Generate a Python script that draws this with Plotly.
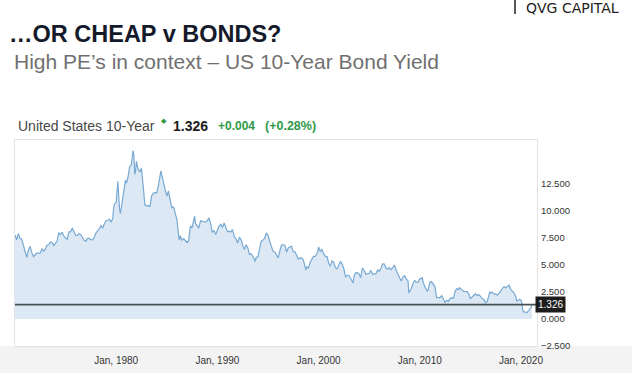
import plotly.graph_objects as go

# ---------------- data ----------------
dates = [
    "1970-01", "1970-03", "1970-05", "1970-07", "1970-09", "1970-11",
    "1971-01", "1971-03", "1971-05", "1971-07", "1971-09", "1971-11",
    "1972-01", "1972-03", "1972-05", "1972-07", "1972-09", "1972-11",
    "1973-01", "1973-03", "1973-05", "1973-07", "1973-09", "1973-11",
    "1974-01", "1974-03", "1974-05", "1974-07", "1974-09", "1974-11",
    "1975-01", "1975-03", "1975-05", "1975-07", "1975-09", "1975-11",
    "1976-01", "1976-03", "1976-05", "1976-07", "1976-09", "1976-11",
    "1977-01", "1977-03", "1977-05", "1977-07", "1977-09", "1977-11",
    "1978-01", "1978-03", "1978-05", "1978-07", "1978-09", "1978-11",
    "1979-01", "1979-03", "1979-05", "1979-07", "1979-09", "1979-10", "1979-11",
    "1980-01", "1980-02", "1980-03", "1980-05", "1980-06", "1980-07", "1980-09", "1980-11", "1980-12",
    "1981-01", "1981-03", "1981-05", "1981-07", "1981-09", "1981-10", "1981-11", "1981-12",
    "1982-01", "1982-03", "1982-05", "1982-07", "1982-09", "1982-11", "1982-12",
    "1983-01", "1983-03", "1983-05", "1983-07", "1983-09", "1983-11",
    "1984-01", "1984-03", "1984-05", "1984-06", "1984-07", "1984-09", "1984-11",
    "1985-01", "1985-03", "1985-05", "1985-07", "1985-09", "1985-11", "1985-12",
    "1986-01", "1986-03", "1986-04", "1986-05", "1986-07", "1986-09", "1986-11",
    "1987-01", "1987-03", "1987-05", "1987-07", "1987-09", "1987-10", "1987-11",
    "1988-01", "1988-03", "1988-05", "1988-07", "1988-09", "1988-11",
    "1989-01", "1989-03", "1989-05", "1989-07", "1989-09", "1989-11",
    "1990-01", "1990-03", "1990-05", "1990-07", "1990-09", "1990-11",
    "1991-01", "1991-03", "1991-05", "1991-07", "1991-09", "1991-11", "1991-12",
    "1992-01", "1992-03", "1992-05", "1992-07", "1992-09", "1992-11",
    "1993-01", "1993-03", "1993-05", "1993-07", "1993-09", "1993-10", "1993-11",
    "1994-01", "1994-03", "1994-05", "1994-07", "1994-09", "1994-11",
    "1995-01", "1995-03", "1995-05", "1995-07", "1995-09", "1995-11",
    "1996-01", "1996-03", "1996-05", "1996-07", "1996-09", "1996-11",
    "1997-01", "1997-03", "1997-05", "1997-07", "1997-09", "1997-11",
    "1998-01", "1998-03", "1998-05", "1998-07", "1998-09", "1998-10", "1998-11",
    "1999-01", "1999-03", "1999-05", "1999-07", "1999-09", "1999-11", "1999-12",
    "2000-01", "2000-03", "2000-05", "2000-07", "2000-09", "2000-11",
    "2001-01", "2001-03", "2001-05", "2001-07", "2001-09", "2001-11",
    "2002-01", "2002-03", "2002-05", "2002-07", "2002-09", "2002-11",
    "2003-01", "2003-03", "2003-05", "2003-06", "2003-07", "2003-09", "2003-11",
    "2004-01", "2004-03", "2004-05", "2004-07", "2004-09", "2004-11",
    "2005-01", "2005-03", "2005-05", "2005-07", "2005-09", "2005-11",
    "2006-01", "2006-03", "2006-05", "2006-07", "2006-09", "2006-11",
    "2007-01", "2007-03", "2007-05", "2007-07", "2007-09", "2007-11",
    "2008-01", "2008-03", "2008-05", "2008-07", "2008-09", "2008-11", "2008-12",
    "2009-01", "2009-03", "2009-05", "2009-07", "2009-09", "2009-11",
    "2010-01", "2010-03", "2010-04", "2010-05", "2010-07", "2010-09", "2010-10", "2010-11",
    "2011-01", "2011-03", "2011-05", "2011-07", "2011-09", "2011-11",
    "2012-01", "2012-03", "2012-05", "2012-07", "2012-09", "2012-11",
    "2013-01", "2013-03", "2013-05", "2013-07", "2013-09", "2013-11", "2013-12",
    "2014-01", "2014-03", "2014-05", "2014-07", "2014-09", "2014-11",
    "2015-01", "2015-03", "2015-05", "2015-07", "2015-09", "2015-11",
    "2016-01", "2016-03", "2016-05", "2016-07", "2016-09", "2016-11", "2016-12",
    "2017-01", "2017-03", "2017-05", "2017-07", "2017-09", "2017-11",
    "2018-01", "2018-03", "2018-05", "2018-07", "2018-09", "2018-11",
    "2019-01", "2019-03", "2019-05", "2019-07", "2019-08", "2019-09", "2019-11",
    "2020-01", "2020-02", "2020-03", "2020-04", "2020-05", "2020-07", "2020-08", "2020-09", "2020-11", "2020-12",
    "2021-01", "2021-02",
]

yields = [
    7.79, 7.33, 7.91, 7.46, 7.39, 6.87,
    6.24, 5.70, 6.39, 6.73, 6.14, 5.78,
    5.95, 6.12, 6.08, 6.11, 6.48, 6.28,
    6.46, 6.85, 6.85, 7.13, 7.09, 6.79,
    6.99, 7.21, 7.99, 7.81, 8.04, 7.68,
    7.50, 7.39, 8.06, 8.06, 8.43, 8.05,
    7.74, 7.73, 7.90, 7.83, 7.59, 7.29,
    7.21, 7.46, 7.46, 7.33, 7.34, 7.58,
    7.96, 8.11, 8.35, 8.64, 8.42, 8.81,
    9.10, 9.12, 9.25, 8.95, 9.33, 10.30, 10.65,
    10.80, 12.41, 12.75, 10.18, 9.78, 10.25, 11.51, 12.68, 12.84,
    12.57, 13.12, 14.10, 14.28, 15.60, 15.15, 13.39, 13.72,
    14.59, 13.86, 13.62, 13.95, 12.34, 10.55, 10.54,
    10.46, 10.51, 10.38, 11.38, 11.65, 11.69,
    11.67, 12.32, 13.41, 13.70, 13.36, 12.52, 11.98,
    11.38, 11.86, 11.01, 10.31, 10.37, 9.78, 9.26,
    9.19, 7.78, 7.30, 7.71, 7.30, 7.45, 7.25,
    7.08, 7.25, 8.61, 8.45, 9.42, 9.52, 8.86,
    8.67, 8.42, 9.09, 9.06, 8.98, 8.96,
    9.09, 9.36, 8.86, 8.02, 8.19, 7.81,
    8.21, 8.59, 8.76, 8.47, 8.89, 8.39,
    8.09, 8.11, 8.07, 8.27, 7.65, 7.42, 7.09,
    7.03, 7.54, 7.39, 6.84, 6.42, 6.87,
    6.60, 5.98, 6.04, 5.81, 5.36, 5.33, 5.72,
    5.75, 6.48, 7.18, 7.30, 7.46, 7.96,
    7.78, 7.20, 6.62, 6.28, 6.20, 5.93,
    5.65, 6.27, 6.85, 6.87, 6.83, 6.20,
    6.58, 6.69, 6.71, 6.22, 6.21, 5.88,
    5.54, 5.65, 5.65, 5.46, 4.81, 4.53, 4.83,
    4.72, 5.23, 5.54, 5.79, 5.80, 6.03, 6.28,
    6.66, 6.26, 6.44, 6.05, 5.80, 5.78,
    5.16, 4.89, 5.39, 5.24, 4.73, 4.65,
    5.04, 5.33, 5.08, 4.65, 3.87, 4.05,
    4.05, 3.81, 3.57, 3.33, 3.98, 4.27, 4.29,
    4.15, 3.83, 4.72, 4.50, 4.13, 4.19,
    4.22, 4.50, 4.14, 4.18, 4.20, 4.54,
    4.42, 4.72, 5.11, 5.09, 4.72, 4.60,
    4.76, 4.56, 4.75, 5.00, 4.52, 4.15,
    3.74, 3.51, 3.88, 4.01, 3.69, 3.53, 2.42,
    2.52, 2.82, 3.29, 3.56, 3.40, 3.40,
    3.73, 3.73, 3.85, 3.42, 3.01, 2.65, 2.54, 2.76,
    3.39, 3.46, 3.17, 3.00, 1.98, 2.01,
    1.97, 2.17, 1.80, 1.53, 1.72, 1.65,
    1.91, 1.96, 1.93, 2.58, 2.81, 2.72, 2.90,
    2.86, 2.72, 2.56, 2.54, 2.53, 2.33,
    1.88, 2.04, 2.20, 2.32, 2.17, 2.26,
    2.09, 1.89, 1.81, 1.50, 1.63, 2.14, 2.49,
    2.43, 2.48, 2.30, 2.32, 2.20, 2.35,
    2.58, 2.84, 2.98, 2.89, 3.00, 3.12,
    2.71, 2.57, 2.40, 2.06, 1.63, 1.70, 1.81,
    1.76, 1.50, 0.87, 0.66, 0.67, 0.62, 0.60, 0.68, 0.87, 0.93,
    1.08, 1.326,
]

last_value = 1.326
change_abs = "+0.004"
change_pct = "(+0.28%)"
series_name = "United States 10-Year"

y_tickvals = [-2.5, 0.0, 2.5, 5.0, 7.5, 10.0, 12.5]
x_tickvals = ["1980-01-01", "1990-01-01", "2000-01-01", "2010-01-01", "2020-01-01"]
x_ticktext = ["Jan, 1980", "Jan, 1990", "Jan, 2000", "Jan, 2010", "Jan, 2020"]

title_text = "…OR CHEAP v BONDS?"
subtitle_text = "High PE’s in context – US 10-Year Bond Yield"
brand_text = "QVG CAPITAL"

# ---------------- geometry helpers ----------------
W, H = 632, 373
L, R, T, B = 15, 537, 140, 346


def px(xpix):
    return (xpix - L) / (R - L)


def py(ypix):
    return (B - ypix) / (B - T)


FONT = "Liberation Sans, Arial, sans-serif"
GREEN = "#2f9a48"

fig = go.Figure()
fig.add_trace(go.Scatter(
    x=dates, y=yields, mode="lines",
    line=dict(color="#78a9d2", width=1.2),
    fill="tozeroy", fillcolor="rgba(208,226,240,0.75)",
    hoverinfo="skip", showlegend=False,
))

shapes = [
    # light grey band below the chart
    dict(type="rect", xref="paper", yref="paper", x0=px(0), x1=px(W), y0=py(H), y1=py(B),
         fillcolor="#f3f3f3", line=dict(width=0), layer="below"),
    # current value line
    dict(type="line", xref="paper", yref="y", x0=0, x1=1, y0=last_value, y1=last_value,
         line=dict(color="#474f54", width=1.8)),
    # brand separator
    dict(type="line", xref="paper", yref="paper", x0=px(515), x1=px(515), y0=py(0), y1=py(14),
         line=dict(color="#444", width=1.8)),
]

annotations = [
    dict(text=title_text, x=px(7), y=py(34), xref="paper", yref="paper", xanchor="left", yanchor="middle",
         showarrow=False, font=dict(family=FONT, size=23.5, color="#151a2b", weight="bold")),
    dict(text=subtitle_text, x=px(12), y=py(62), xref="paper", yref="paper", xanchor="left", yanchor="middle",
         showarrow=False, font=dict(family=FONT, size=21, color="#707070")),
    dict(text=brand_text, x=px(524), y=py(8), xref="paper", yref="paper", xanchor="left", yanchor="middle",
         showarrow=False, font=dict(family="DejaVu Sans, sans-serif", size=14, color="#222222")),
    dict(text=series_name, x=px(16), y=py(126), xref="paper", yref="paper", xanchor="left", yanchor="middle",
         showarrow=False, font=dict(family=FONT, size=14, color="#474747")),
    dict(text="◆", x=px(159), y=py(121), xref="paper", yref="paper", xanchor="left", yanchor="middle",
         showarrow=False, font=dict(family="DejaVu Sans, sans-serif", size=7, color=GREEN)),
    dict(text=f"{last_value:.3f}", x=px(171), y=py(126), xref="paper", yref="paper", xanchor="left", yanchor="middle",
         showarrow=False, font=dict(family=FONT, size=14, color="#1c1c1c", weight="bold")),
    dict(text=change_abs, x=px(216), y=py(126), xref="paper", yref="paper", xanchor="left", yanchor="middle",
         showarrow=False, font=dict(family=FONT, size=12, color=GREEN, weight="bold")),
    dict(text=change_pct, x=px(263), y=py(126), xref="paper", yref="paper", xanchor="left", yanchor="middle",
         showarrow=False, font=dict(family=FONT, size=12.5, color=GREEN, weight="bold")),
    # current value tag
    dict(text=f"{last_value:.3f}", x=px(535), y=last_value, xref="paper", yref="y", xanchor="left", yanchor="middle",
         showarrow=False, bgcolor="#1d1d1d", borderpad=2,
         font=dict(family=FONT, size=10, color="#ffffff")),
]

fig.update_layout(
    width=W, height=H,
    margin=dict(l=L, r=W - R, t=T, b=H - B, pad=0, autoexpand=False),
    paper_bgcolor="#ffffff", plot_bgcolor="#ffffff",
    shapes=shapes, annotations=annotations,
    showlegend=False,
    font=dict(family=FONT, color="#333"),
)
fig.update_xaxes(
    type="date", range=["1970-01-01", "2021-08-01"],
    tickvals=x_tickvals, ticktext=x_ticktext,
    tickfont=dict(family=FONT, size=10, color="#333"),
    showgrid=False, zeroline=False, ticks="",
    showline=True, mirror=True, linecolor="#e4e4e4", linewidth=1,
    ticklabelstandoff=5, automargin=False,
)
fig.update_yaxes(
    side="right", range=[-2.5, 16.57],
    tickvals=y_tickvals, tickformat=".3f",
    tickfont=dict(family=FONT, size=9.5, color="#333"),
    showgrid=False, zeroline=False, ticks="",
    showline=True, mirror=True, linecolor="#e4e4e4", linewidth=1,
    ticklabelstandoff=1, automargin=False,
)

fig.write_html(
    "out.html",
    config={"displayModeBar": False},
    post_script="document.body.style.margin='0';document.body.style.overflow='hidden';",
)
